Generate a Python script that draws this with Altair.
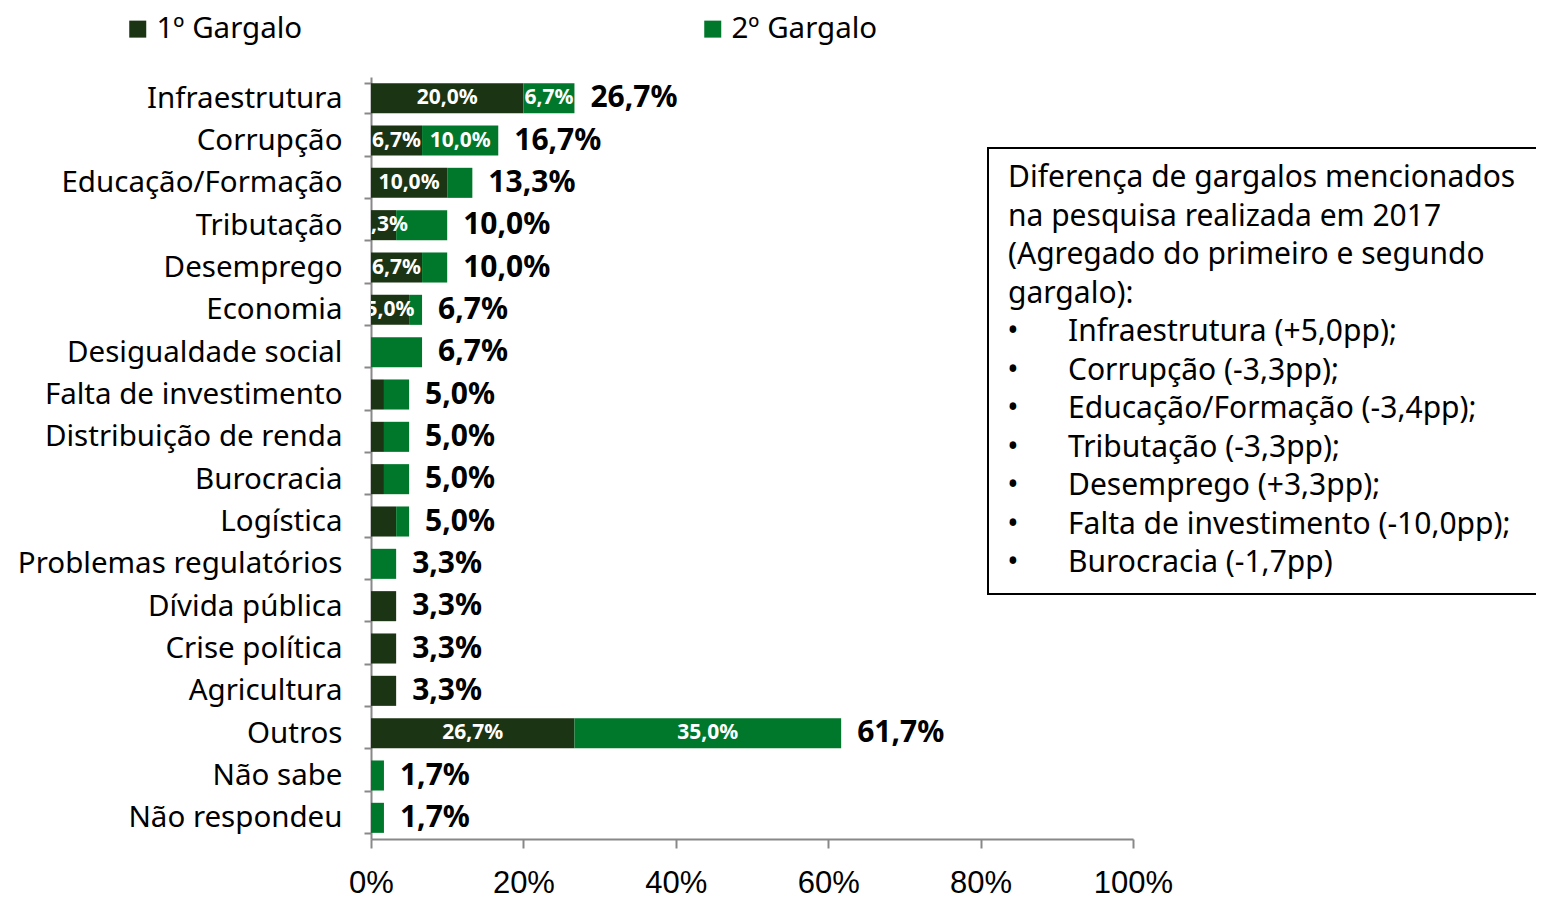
import altair as alt
import pandas as pd

categories = ["Infraestrutura", "Corrupção", "Educação/Formação", "Tributação", "Desemprego",
              "Economia", "Desigualdade social", "Falta de investimento", "Distribuição de renda",
              "Burocracia", "Logística", "Problemas regulatórios", "Dívida pública",
              "Crise política", "Agricultura", "Outros", "Não sabe", "Não respondeu"]
gargalo1 = [20.0, 6.7, 10.0, 3.3, 6.7, 5.0, 0.0, 1.7, 1.7, 1.7, 3.3, 0.0, 3.3, 3.3, 3.3, 26.7, 0.0, 0.0]
gargalo2 = [6.7, 10.0, 3.3, 6.7, 3.3, 1.7, 6.7, 3.3, 3.3, 3.3, 1.7, 3.3, 0.0, 0.0, 0.0, 35.0, 1.7, 1.7]
inner1 = ["20,0%", "6,7%", "10,0%", "3,3%", "6,7%", "5,0%", "", "", "", "", "", "", "", "", "", "26,7%", "", ""]
inner2 = ["6,7%", "10,0%", "", "", "", "", "", "", "", "", "", "", "", "", "", "35,0%", "", ""]
series = ["1º Gargalo", "2º Gargalo"]
x_ticks = [0, 20, 40, 60, 80, 100]

note_header = ["Diferença de gargalos mencionados", "na pesquisa realizada em 2017",
               "(Agregado do primeiro e segundo", "gargalo):"]
note_items = ["Infraestrutura (+5,0pp);", "Corrupção (-3,3pp);", "Educação/Formação (-3,4pp);",
              "Tributação (-3,3pp);", "Desemprego (+3,3pp);", "Falta de investimento (-10,0pp);",
              "Burocracia (-1,7pp)"]

DARK = "#1b3413"
GREEN = "#00782b"
FONT = "Noto Sans"

rows = []
for i, c in enumerate(categories):
    rows.append({"cat": c, "serie": series[0], "ord": 0, "v": gargalo1[i], "lab": inner1[i]})
    rows.append({"cat": c, "serie": series[1], "ord": 1, "v": gargalo2[i], "lab": inner2[i]})
df = pd.DataFrame(rows)

tot = pd.DataFrame({
    "cat": categories,
    "total": [a + b for a, b in zip(gargalo1, gargalo2)],
})
tot["lab"] = tot["total"].map(lambda t: f"{t:.1f}".replace(".", ",") + "%")

one = pd.DataFrame({"k": [0]})

y_enc = alt.Y("cat:N", sort=categories, title=None,
              scale=alt.Scale(paddingInner=0.29, paddingOuter=0.145),
              axis=alt.Axis(labelFont=FONT, labelFontSize=29.5, labelColor="black",
                            labelPadding=22, tickBand="extent", tickSize=7,
                            tickColor="#888888", domainColor="#888888", domainWidth=2,
                            tickWidth=2, labelLimit=400))
x_scale = alt.Scale(domain=[0, 100], nice=False)

bars = alt.Chart(df).mark_bar().encode(
    y=y_enc,
    x=alt.X("v:Q", stack="zero", scale=x_scale, title=None,
            axis=alt.Axis(values=x_ticks, labelExpr="datum.value + '%'", grid=False,
                          labelFlush=False, labelOverlap=False,
                          labelFont="Liberation Sans", labelFontSize=31, labelColor="black",
                          labelPadding=20, tickSize=9, tickColor="#888888",
                          domainColor="#888888", domainWidth=2, tickWidth=2)),
    color=alt.Color("serie:N", scale=alt.Scale(domain=series, range=[DARK, GREEN]),
                    legend=alt.Legend(title=None, orient="none", legendX=-248, legendY=-63,
                                      direction="horizontal", symbolType="square",
                                      symbolSize=289, symbolStrokeWidth=0,
                                      labelFont=FONT, labelFontSize=29.5, labelColor="black",
                                      labelOffset=4, columnPadding=395, labelLimit=300)),
    order=alt.Order("ord:Q"),
)

inner = alt.Chart(df).transform_stack(
    stack="v", groupby=["cat"], as_=["x0", "x1"], sort=[alt.SortField("ord")]
).transform_calculate(
    xm="(datum.x0 + datum.x1) / 2"
).mark_text(font=FONT, fontSize=21, fontWeight="bold", color="white", clip=True).encode(
    y=alt.Y("cat:N", sort=categories),
    x=alt.X("xm:Q", scale=x_scale),
    text="lab:N",
)

totals = alt.Chart(tot).mark_text(font=FONT, fontSize=30, fontWeight="bold", color="black",
                                  align="left", dx=16).encode(
    y=alt.Y("cat:N", sort=categories),
    x=alt.X("total:Q", scale=x_scale),
    text="lab:N",
)

NFS = 30
LH = 38.5
TOP = 86
box = alt.Chart(one).mark_rect(fill="white", stroke="black", strokeWidth=2).encode(
    x=alt.value(617), x2=alt.value(1200), y=alt.value(71), y2=alt.value(517)
)
header = alt.Chart(one).mark_text(text=note_header, font=FONT, fontSize=NFS, color="black",
                                  align="left", baseline="top", lineHeight=LH).encode(
    x=alt.value(637), y=alt.value(TOP)
)
items = alt.Chart(one).mark_text(text=note_items, font=FONT, fontSize=NFS, color="black",
                                 align="left", baseline="top", lineHeight=LH).encode(
    x=alt.value(697), y=alt.value(TOP + 4 * LH)
)
bullets = alt.Chart(one).mark_text(text=["•"] * len(note_items), font=FONT, fontSize=NFS,
                                   color="black", align="center", baseline="top",
                                   lineHeight=LH).encode(
    x=alt.value(642), y=alt.value(TOP + 4 * LH)
)

chart = alt.layer(bars, inner, totals, box, header, bullets, items).properties(
    width=762, height=762,
    autosize=alt.AutoSizeParams(type="none"),
    padding={"left": 363, "top": 69, "right": 403, "bottom": 60},
).configure_view(stroke=None)

chart.save("out.html", embed_options={"renderer": "svg", "actions": False})
